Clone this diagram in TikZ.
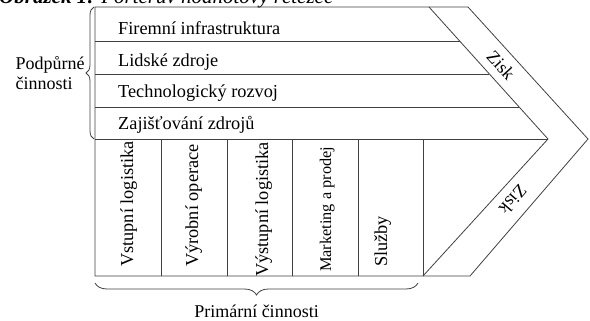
\documentclass[tikz,border=0pt]{standalone}
\usepackage{fontspec}
\setmainfont{LiberationSerif}[Extension=.ttf, UprightFont=*-Regular,
  BoldFont=*-Bold, ItalicFont=*-Italic, BoldItalicFont=*-BoldItalic]
\usetikzlibrary{positioning,decorations.pathreplacing}

\begin{document}
\begin{tikzpicture}[
      x=1pt, y=-1pt,
      frame/.style={draw=black!75, line width=0.8pt},
      rowlabel/.style={anchor=base west, inner sep=0pt,
                       font=\fontsize{18.3}{20}\selectfont},
      collabel/.style={rotate=90, anchor=base west, inner sep=0pt,
                       font=\fontsize{18.3}{20}\selectfont},
      profit/.style={inner sep=0pt, font=\fontsize{18}{20}\selectfont},
      grouplabel/.style={align=left, inner sep=0pt,
                         font=\fontsize{18}{20}\selectfont},
      brc/.style={frame, decorate, decoration={brace, amplitude=#1}}
  ]
  \clip (0,0) rectangle (590,321);
  \useasboundingbox (0,0) rectangle (590,321);

  %% ---- caption, cut off at the top edge
  \node[anchor=base west, inner sep=0pt,
        font=\fontsize{21}{24}\selectfont\itshape] (caption) at (-1,4)
        {\textbf{Obrázek 1:} Porterův hodnotový řetězec};

  %% ---- outline of the chain with the margin band
  \draw[frame] (95,7) -- (468,7) -- (588,139) -- (470,276) -- (95,276) -- cycle;
  \draw[frame] (429,7) -- (548,139) -- (423,276);

  %% ---- support rows
  \foreach \y/\x in {41/459.7, 74/489.4, 107/519.2, 139/548}
    \draw[frame] (95,\y) -- (\x,\y);

  %% ---- primary columns
  \foreach \x in {161,227,292,358,423}
    \draw[frame] (\x,139) -- (\x,276);

  %% ---- support activities
  \node[rowlabel] (infra) at (118,35)  {Firemní infrastruktura};
  \node[rowlabel] (hr)    at (118,67)  {Lidské zdroje};
  \node[rowlabel] (tech)  at (118,98)  {Technologický rozvoj};
  \node[rowlabel] (proc)  at (118,129) {Zajišťování zdrojů};

  %% ---- primary activities (read upwards)
  \node[collabel] (inlog)  at (133,267) {Vstupní logistika};
  \node[collabel] (ops)    at (198,267) {Výrobní operace};
  \node[collabel] (outlog) at (268,277) {Výstupní logistika};
  \node[collabel, font=\fontsize{16.3}{18}\selectfont] (mkt) at (331,272) {Marketing a prodej};
  \node[collabel] (serv)   at (387,267) {Služby};

  %% ---- margin
  \node[profit, rotate=-47.7] (zisktop) at (501,65)  {Zisk};
  \node[profit, rotate=229.3] (ziskbot) at (513,200) {Zisk};

  %% ---- braces
  \draw[brc=8pt] (94,139) -- (94,7)
    node[midway, grouplabel, left=9pt] (support) {Podpůrné\\činnosti};
  \draw[brc=12pt] (418,283) -- (95,283)
    node[midway, grouplabel, below=22pt] (primary) {Primární činnosti};
\end{tikzpicture}
\end{document}
